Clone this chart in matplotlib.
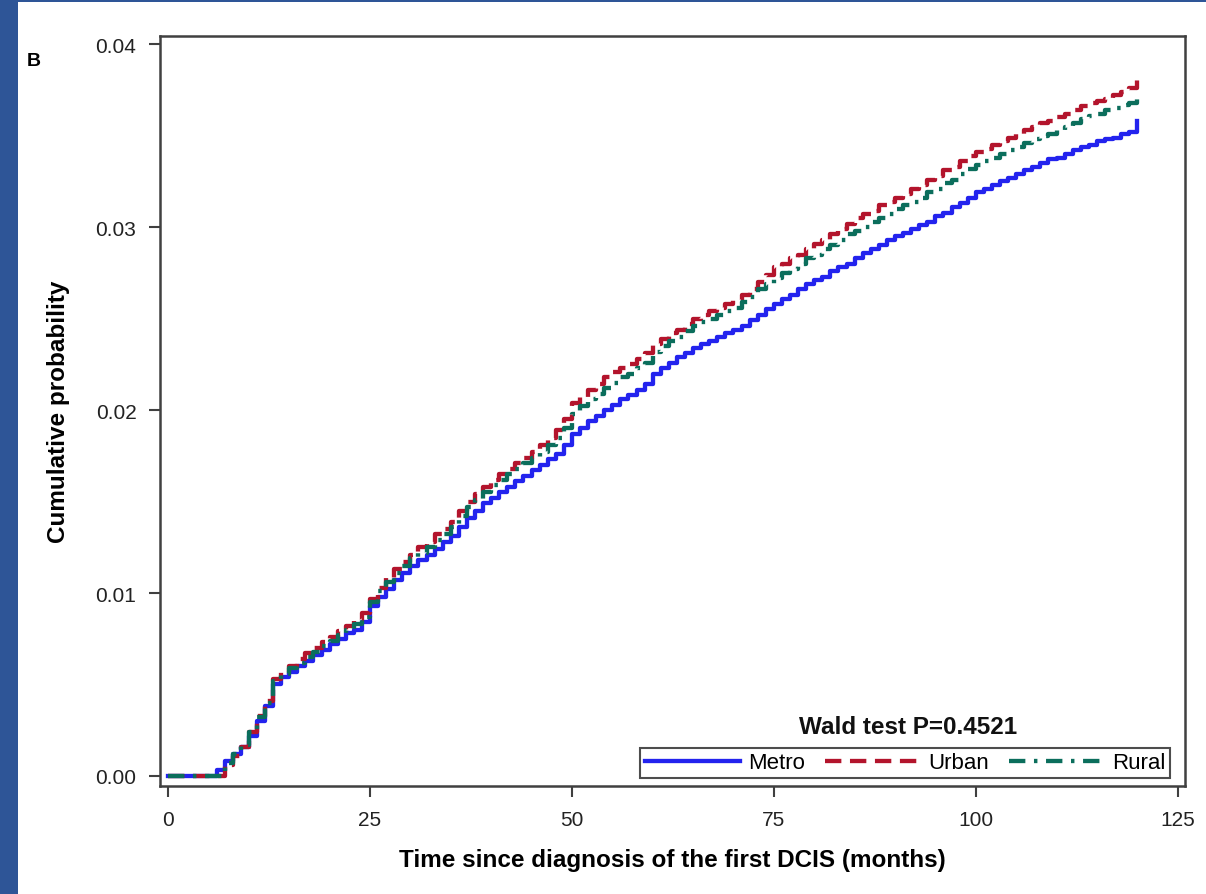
import matplotlib
matplotlib.use('Agg')
import matplotlib.pyplot as plt
from matplotlib.patches import Rectangle

months = list(range(0, 121))

metro = [0, 0, 0, 0, 0, 0, 0.0003, 0.0008, 0.0012, 0.0016,
         0.0022, 0.0030, 0.0038, 0.0050, 0.0054, 0.0057, 0.0060, 0.0063, 0.0066, 0.0069,
         0.0072, 0.0075, 0.0078, 0.0080, 0.0084, 0.0093, 0.0098, 0.0102, 0.0107, 0.0111,
         0.0115, 0.0118, 0.0121, 0.0124, 0.0128, 0.0131, 0.0136, 0.0141, 0.0145, 0.0149,
         0.0152, 0.0155, 0.0158, 0.0161, 0.0164, 0.0167, 0.0170, 0.0173, 0.0176, 0.0181,
         0.0187, 0.0190, 0.0194, 0.0197, 0.0200, 0.0203, 0.0206, 0.0208, 0.0211, 0.0214,
         0.0220, 0.0223, 0.0226, 0.0229, 0.0231, 0.0234, 0.0236, 0.0238, 0.0240, 0.0242,
         0.0244, 0.0246, 0.0249, 0.0252, 0.0255, 0.0258, 0.0261, 0.0263, 0.0266, 0.0269,
         0.0271, 0.0273, 0.0276, 0.0278, 0.0280, 0.0283, 0.0286, 0.0288, 0.0290, 0.0293,
         0.0295, 0.0297, 0.0299, 0.0301, 0.0303, 0.0306, 0.0308, 0.0311, 0.0313, 0.0316,
         0.0319, 0.0321, 0.0323, 0.0325, 0.0327, 0.0329, 0.0331, 0.0333, 0.0335, 0.0337,
         0.0338, 0.0340, 0.0342, 0.0344, 0.0345, 0.0347, 0.0348, 0.0349, 0.0351, 0.0352,
         0.0358]

urban = [0, 0, 0, 0, 0, 0, 0, 0.0006, 0.0011, 0.0016,
         0.0024, 0.0033, 0.0041, 0.0053, 0.0057, 0.0060, 0.0064, 0.0067, 0.0070, 0.0073,
         0.0076, 0.0079, 0.0082, 0.0085, 0.0089, 0.0097, 0.0103, 0.0108, 0.0113, 0.0117,
         0.0121, 0.0125, 0.0128, 0.0132, 0.0135, 0.0139, 0.0145, 0.0150, 0.0154, 0.0158,
         0.0162, 0.0165, 0.0168, 0.0171, 0.0174, 0.0177, 0.0181, 0.0185, 0.0189, 0.0195,
         0.0204, 0.0207, 0.0211, 0.0214, 0.0218, 0.0221, 0.0223, 0.0225, 0.0228, 0.0231,
         0.0236, 0.0239, 0.0242, 0.0244, 0.0247, 0.0250, 0.0252, 0.0254, 0.0256, 0.0258,
         0.0260, 0.0263, 0.0266, 0.0270, 0.0274, 0.0278, 0.0280, 0.0283, 0.0285, 0.0288,
         0.0291, 0.0293, 0.0296, 0.0299, 0.0302, 0.0305, 0.0307, 0.0309, 0.0312, 0.0314,
         0.0316, 0.0318, 0.0321, 0.0323, 0.0326, 0.0328, 0.0331, 0.0333, 0.0336, 0.0339,
         0.0341, 0.0343, 0.0345, 0.0347, 0.0349, 0.0351, 0.0353, 0.0355, 0.0357, 0.0358,
         0.0360, 0.0362, 0.0364, 0.0366, 0.0368, 0.0369, 0.0370, 0.0372, 0.0374, 0.0376,
         0.0384]

rural = [0, 0, 0, 0, 0, 0, 0, 0.0007, 0.0012, 0.0017,
         0.0024, 0.0032, 0.0040, 0.0052, 0.0056, 0.0059, 0.0062, 0.0065, 0.0068, 0.0071,
         0.0074, 0.0077, 0.0080, 0.0083, 0.0087, 0.0095, 0.0101, 0.0106, 0.0111, 0.0115,
         0.0119, 0.0122, 0.0125, 0.0129, 0.0132, 0.0136, 0.0142, 0.0147, 0.0151, 0.0155,
         0.0159, 0.0162, 0.0165, 0.0168, 0.0171, 0.0174, 0.0177, 0.0181, 0.0185, 0.0190,
         0.0198, 0.0202, 0.0206, 0.0209, 0.0212, 0.0215, 0.0218, 0.0220, 0.0223, 0.0226,
         0.0232, 0.0235, 0.0238, 0.0240, 0.0243, 0.0246, 0.0248, 0.0250, 0.0252, 0.0254,
         0.0256, 0.0259, 0.0262, 0.0266, 0.0269, 0.0272, 0.0275, 0.0277, 0.0280, 0.0283,
         0.0285, 0.0288, 0.0290, 0.0293, 0.0296, 0.0298, 0.0300, 0.0303, 0.0305, 0.0307,
         0.0310, 0.0312, 0.0314, 0.0316, 0.0319, 0.0321, 0.0324, 0.0326, 0.0329, 0.0332,
         0.0334, 0.0336, 0.0338, 0.0340, 0.0342, 0.0344, 0.0346, 0.0348, 0.0350, 0.0351,
         0.0353, 0.0355, 0.0357, 0.0359, 0.0361, 0.0362, 0.0364, 0.0365, 0.0367, 0.0368,
         0.0370]

x_ticks = [0, 25, 50, 75, 100, 125]
y_ticks = [0.00, 0.01, 0.02, 0.03, 0.04]
y_tick_labels = ['0.00', '0.01', '0.02', '0.03', '0.04']

plt.rcParams['font.family'] = ['Liberation Sans', 'DejaVu Sans']

fig = plt.figure(figsize=(12.06, 8.95), dpi=100)
# slide border (blue strip left and top)
fig.patches.append(Rectangle((0, 0), 18 / 1206, 1, transform=fig.transFigure,
                             facecolor='#2E5597', edgecolor='none', zorder=0))
fig.patches.append(Rectangle((0, 1 - 3 / 895), 1, 3 / 895, transform=fig.transFigure,
                             facecolor='#2E5597', edgecolor='none', zorder=0))

ax = fig.add_axes([160 / 1206, 1 - 787 / 895, (1185 - 160) / 1206, (787 - 37) / 895])

ax.step(months, metro, where='post', color='#2323EE', lw=3.1, label='Metro')
ax.step(months, urban, where='post', color='#B3142C', lw=3.1, dashes=(3.8, 2.0), label='Urban')
ax.step(months, rural, where='post', color='#0B6E5C', lw=3.1, dashes=(3.8, 2.0, 0.8, 2.0), label='Rural')

ax.set_xlim(-1, 125.9)
ax.set_ylim(-0.00055, 0.04045)
ax.set_xticks(x_ticks)
ax.set_yticks(y_ticks)
ax.set_yticklabels(y_tick_labels)
ax.tick_params(direction='out', length=8, width=1.5, color='#404040', labelsize=15,
               pad=9, labelcolor='#222222')
for s in ax.spines.values():
    s.set_linewidth(1.8)
    s.set_color('#404040')

ax.set_xlabel('Time since diagnosis of the first DCIS (months)', fontsize=17.5,
              fontweight='bold', labelpad=14)
ax.set_ylabel('Cumulative probability', fontsize=17.5, fontweight='bold', labelpad=18)

leg = ax.legend(loc='lower right', bbox_to_anchor=(0.9855, 0.011), ncol=3, fontsize=16,
                frameon=True, fancybox=False, handlelength=4.3, handletextpad=0.35,
                columnspacing=0.9, borderpad=0.2, borderaxespad=0)
leg.get_frame().set_edgecolor('#202020')
leg.get_frame().set_linewidth(1.5)

ax.text(0.73, 0.079, 'Wald test P=0.4521', transform=ax.transAxes, ha='center',
        va='center', fontsize=17.5, fontweight='bold', color='#111111')

fig.text(34 / 1206, 1 - 62 / 895, 'B', fontsize=14, fontweight='bold', ha='center', va='center')

fig.savefig('out.png', dpi=100)
